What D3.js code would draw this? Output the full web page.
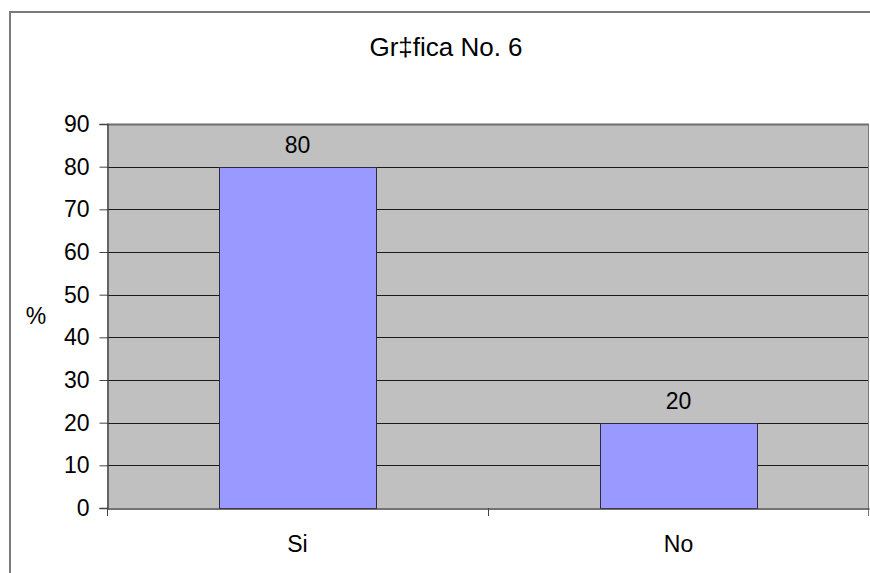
<!DOCTYPE html>
<html>
<head>
<meta charset="utf-8">
<script src="https://cdn.jsdelivr.net/npm/d3@7"></script>
<style>
  html, body { margin: 0; padding: 0; background: #fff; overflow: hidden; }
  svg { display: block; overflow: hidden; font-family: "Liberation Sans", Arial, sans-serif; }
</style>
</head>
<body>
<svg id="chart" width="870" height="573"></svg>
<script>
const categories = ["Si", "No"];
const values = [80, 20];
const yTicks = [0, 10, 20, 30, 40, 50, 60, 70, 80, 90];
const titleText = "Gr\u2021fica No. 6";
const yLabel = "%";

const svg = d3.select("#chart");
const plot = { left: 107, top: 124, right: 869, bottom: 508 };

// outer chart border (right/bottom edges fall outside the picture)
svg.append("path")
  .attr("d", "M10,573 L10,12 L870,12")
  .attr("fill", "none")
  .attr("stroke", "#7a7a7a").attr("stroke-width", 2);

const x = d3.scaleBand()
  .domain(categories)
  .range([plot.left, plot.right])
  .paddingInner(0.588)
  .paddingOuter(0.294);

const y = d3.scaleLinear()
  .domain([0, 90])
  .range([plot.bottom, plot.top]);

// plot background
svg.append("rect")
  .attr("x", plot.left).attr("y", plot.top)
  .attr("width", plot.right - plot.left)
  .attr("height", plot.bottom - plot.top)
  .attr("fill", "#c0c0c0");

// gridlines
svg.append("g").selectAll("line")
  .data(yTicks.filter(t => t > 0))
  .join("line")
  .attr("x1", plot.left).attr("x2", plot.right)
  .attr("y1", d => Math.round(y(d)) + 0.5)
  .attr("y2", d => Math.round(y(d)) + 0.5)
  .attr("stroke", d => d === 90 ? "#6e6e6e" : "#1a1a1a")
  .attr("stroke-width", d => d === 90 ? 2 : 1);

// right border of plot
svg.append("line")
  .attr("x1", plot.right - 0.5).attr("x2", plot.right - 0.5)
  .attr("y1", plot.top).attr("y2", plot.bottom + 8)
  .attr("stroke", "#7a7a7a").attr("stroke-width", 1);

// bars
svg.append("g").selectAll("rect")
  .data(values)
  .join("rect")
  .attr("x", (d, i) => Math.round(x(categories[i])) + 0.5)
  .attr("y", d => Math.round(y(d)) + 0.5)
  .attr("width", Math.round(x.bandwidth()))
  .attr("height", d => Math.round(y(0)) - Math.round(y(d)))
  .attr("fill", "#9999ff")
  .attr("stroke", "#2a2a40")
  .attr("stroke-width", 1);

// bar value labels
svg.append("g").selectAll("text")
  .data(values)
  .join("text")
  .attr("x", (d, i) => x(categories[i]) + x.bandwidth() / 2)
  .attr("y", d => y(d) - 14)
  .attr("text-anchor", "middle")
  .attr("font-size", 23)
  .attr("fill", "#000")
  .text(d => d);

// y axis
const yAxis = d3.axisLeft(y).tickValues(yTicks).tickSize(8).tickPadding(10).tickFormat(d3.format("d"));
const gy = svg.append("g")
  .attr("transform", `translate(${plot.left + 0.5},0)`)
  .call(yAxis);
gy.select(".domain").attr("stroke", "#444").attr("stroke-width", 1.5);
gy.selectAll(".tick line").attr("stroke", "#444");
gy.selectAll(".tick text").attr("font-size", 23).attr("fill", "#000")
  .attr("font-family", "Liberation Sans, Arial, sans-serif");

// x axis
const xAxis = d3.axisBottom(x).tickSize(0).tickPadding(27);
const gx = svg.append("g")
  .attr("transform", `translate(0,${plot.bottom + 0.5})`)
  .call(xAxis);
gx.select(".domain").attr("stroke", "#444").attr("stroke-width", 1.5);
gx.selectAll(".tick text").attr("font-size", 23).attr("fill", "#000")
  .attr("font-family", "Liberation Sans, Arial, sans-serif");

// x axis separator ticks at band boundaries
const bounds = [plot.left, ...categories.slice(1).map(c => x(c) - x.step() * x.paddingInner() / 2)];
svg.append("g").selectAll("line")
  .data(bounds)
  .join("line")
  .attr("x1", d => Math.round(d) + 0.5).attr("x2", d => Math.round(d) + 0.5)
  .attr("y1", plot.bottom).attr("y2", plot.bottom + 8)
  .attr("stroke", "#444").attr("stroke-width", 1);

// y label
svg.append("text")
  .attr("x", 36).attr("y", 324)
  .attr("text-anchor", "middle")
  .attr("font-size", 23)
  .text(yLabel);

// title
svg.append("text")
  .attr("x", 446).attr("y", 56)
  .attr("text-anchor", "middle")
  .attr("font-size", 26)
  .text(titleText);
</script>
</body>
</html>
